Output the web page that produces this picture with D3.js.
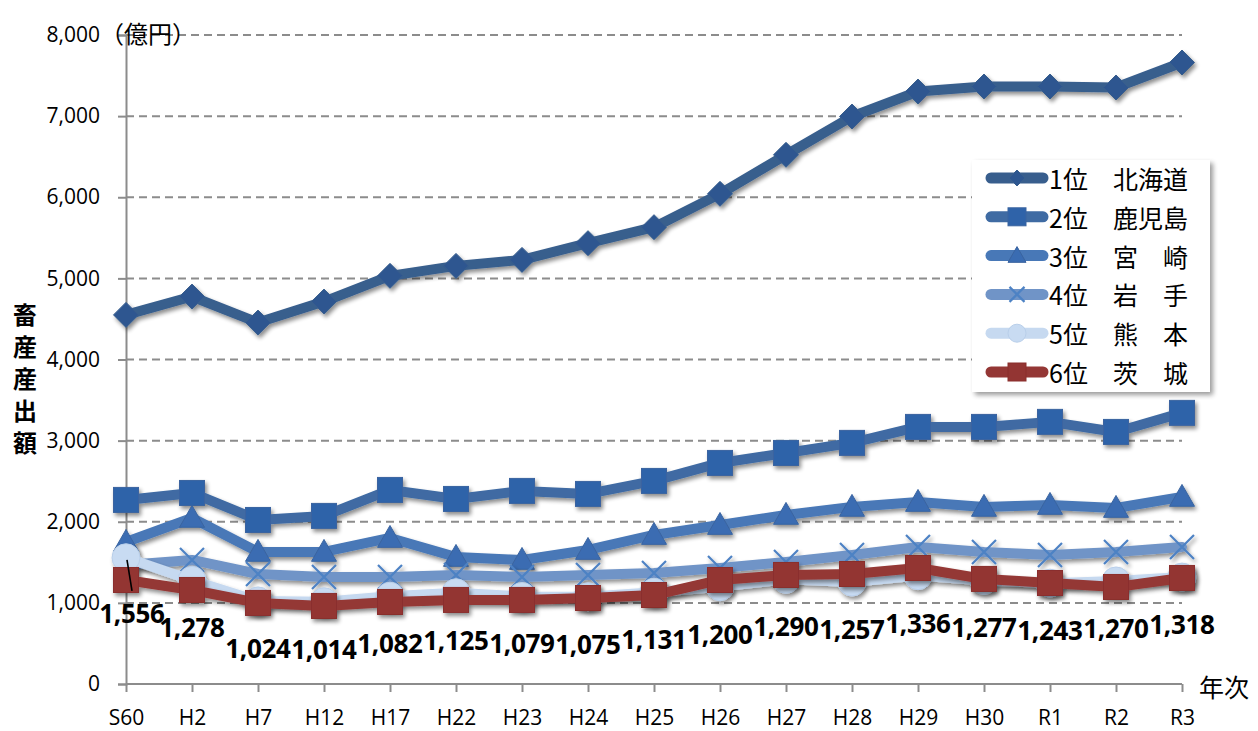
<!DOCTYPE html>
<html>
<head>
<meta charset="utf-8">
<script src="https://cdn.jsdelivr.net/npm/d3@7"></script>
<style>
  html, body { margin: 0; padding: 0; background: #fff; }
  svg { display: block; }
</style>
</head>
<body>
<svg id="chart" width="1258" height="731"></svg>
<script>
// 都道府県別 畜産産出額の推移（億円）
const years = ["S60","H2","H7","H12","H17","H22","H23","H24","H25","H26","H27","H28","H29","H30","R1","R2","R3"];
const hokkaido  = [4550,4776,4455,4714,5031,5154,5228,5434,5631,6042,6523,6995,7303,7365,7365,7353,7661];
const kagoshima = [2269,2355,2022,2072,2392,2281,2380,2343,2503,2725,2848,2972,3169,3169,3231,3107,3342];
const miyazaki  = [1751,2047,1628,1628,1800,1566,1529,1652,1837,1960,2084,2183,2244,2183,2207,2170,2306];
const iwate     = [1467,1529,1356,1319,1319,1344,1319,1344,1369,1430,1504,1590,1689,1628,1590,1628,1689];
const kumamoto  = [1556,1278,1024,1014,1082,1125,1079,1075,1131,1200,1290,1257,1336,1277,1243,1270,1318];
const ibaraki   = [1282,1159,999,962,1011,1036,1036,1060,1097,1282,1344,1356,1430,1295,1245,1196,1307];
const seriesNames = ["1位　北海道","2位　鹿児島","3位　宮　崎","4位　岩　手","5位　熊　本","6位　茨　城"];
const yTicks = [0,1000,2000,3000,4000,5000,6000,7000,8000];

const JP = "'Noto Sans CJK JP', 'Noto Sans', sans-serif";
const NUM = "'Open Sans', 'Liberation Sans', sans-serif";

const series = [
  { name: seriesNames[0], values: hokkaido,  line: "#385e8d", fill: "#2d5690", marker: "diamond" },
  { name: seriesNames[1], values: kagoshima, line: "#3f6ba3", fill: "#2f63a9", marker: "square" },
  { name: seriesNames[2], values: miyazaki,  line: "#4878b7", fill: "#3a6cb2", marker: "triangle" },
  { name: seriesNames[3], values: iwate,     line: "#7094c7", fill: "#4d82c4", marker: "cross" },
  { name: seriesNames[4], values: kumamoto,  line: "#c6d9f0", fill: "#c8dbf2", marker: "circle" },
  { name: seriesNames[5], values: ibaraki,   line: "#943735", fill: "#933533", marker: "rsquare" }
];

const svg = d3.select("#chart");
const x = d3.scalePoint().domain(years).range([126, 1182]);
const y = d3.scaleLinear().domain([0, 8000]).range([684, 35]);

// soft shadow under lines and markers
const defs = svg.append("defs");
const f = defs.append("filter").attr("id", "shadow")
  .attr("x", "-10%").attr("y", "-10%").attr("width", "130%").attr("height", "140%");
f.append("feGaussianBlur").attr("in", "SourceAlpha").attr("stdDeviation", 2.2).attr("result", "b");
f.append("feOffset").attr("in", "b").attr("dx", 2).attr("dy", 3).attr("result", "o");
f.append("feComponentTransfer").attr("in", "o").attr("result", "s")
  .append("feFuncA").attr("type", "linear").attr("slope", 0.45);
const fm = f.append("feMerge");
fm.append("feMergeNode").attr("in", "s");
fm.append("feMergeNode").attr("in", "SourceGraphic");

const lf = defs.append("filter").attr("id", "boxshadow")
  .attr("x", "-10%").attr("y", "-10%").attr("width", "130%").attr("height", "130%");
lf.append("feGaussianBlur").attr("in", "SourceAlpha").attr("stdDeviation", 2.5).attr("result", "b");
lf.append("feOffset").attr("in", "b").attr("dx", 3).attr("dy", 3).attr("result", "o");
lf.append("feComponentTransfer").attr("in", "o").attr("result", "s")
  .append("feFuncA").attr("type", "linear").attr("slope", 0.4);
const lm = lf.append("feMerge");
lm.append("feMergeNode").attr("in", "s");
lm.append("feMergeNode").attr("in", "SourceGraphic");

// gridlines
const grid = svg.append("g");
grid.selectAll("line.g").data(yTicks.filter(d => d > 0)).join("line")
  .attr("x1", x.range()[0]).attr("x2", x.range()[1])
  .attr("y1", d => y(d)).attr("y2", d => y(d))
  .attr("stroke", "#8c8c8c").attr("stroke-width", 2).attr("stroke-dasharray", "8,5");

// y axis
const yAxis = d3.axisLeft(y).tickValues(yTicks).tickSize(8).tickPadding(18)
  .tickFormat(d3.format(","));
const ya = svg.append("g").attr("transform", `translate(${x.range()[0]},0)`).call(yAxis);
ya.select(".domain").attr("stroke", "#8c8c8c").attr("stroke-width", 2);
ya.selectAll(".tick line").attr("stroke", "#8c8c8c").attr("stroke-width", 2);
ya.selectAll(".tick text").attr("font-family", NUM).attr("font-size", 21).attr("fill", "#000");

// x axis
const xAxis = d3.axisBottom(x).tickSize(8).tickPadding(18);
const xa = svg.append("g").attr("transform", `translate(0,${y(0)})`).call(xAxis);
xa.select(".domain").attr("stroke", "#8c8c8c").attr("stroke-width", 2)
  .attr("d", `M${x.range()[0]},0H${x.range()[1]}`);
xa.selectAll(".tick line").attr("stroke", "#8c8c8c").attr("stroke-width", 2);
xa.selectAll(".tick text").attr("font-family", NUM).attr("font-size", 21).attr("fill", "#000");

// marker shapes
function drawMarker(g, type, cx, cy, s, sr) {
  const h = s / 2;
  if (type === "diamond") {
    g.append("path").attr("d", `M${cx},${cy - h}L${cx + h},${cy}L${cx},${cy + h}L${cx - h},${cy}Z`)
      .attr("fill", sr.fill).attr("stroke", sr.line).attr("stroke-width", 1);
  } else if (type === "square" || type === "rsquare") {
    g.append("rect").attr("x", cx - h).attr("y", cy - h).attr("width", s).attr("height", s)
      .attr("fill", sr.fill).attr("stroke", type === "square" ? "#3a64a0" : "#8a2f2d").attr("stroke-width", 1);
  } else if (type === "triangle") {
    g.append("path").attr("d", `M${cx},${cy - h}L${cx + h},${cy + h * 0.75}L${cx - h},${cy + h * 0.75}Z`)
      .attr("fill", sr.fill).attr("stroke", "#3a64a0").attr("stroke-width", 1);
  } else if (type === "cross") {
    g.append("path").attr("d", `M${cx - h},${cy - h}L${cx + h},${cy + h}M${cx - h},${cy + h}L${cx + h},${cy - h}`)
      .attr("fill", "none").attr("stroke", sr.fill).attr("stroke-width", 2.2);
  } else if (type === "circle") {
    g.append("circle").attr("cx", cx).attr("cy", cy).attr("r", h)
      .attr("fill", sr.fill).attr("stroke", "#b9cfea").attr("stroke-width", 1);
  }
}
const markerSize = { diamond: 25, square: 25, triangle: 25, cross: 24, circle: 28, rsquare: 25 };

// series lines and markers
const line = d3.line().x((d, i) => x(years[i])).y(d => y(d));
series.forEach(sr => {
  const g = svg.append("g").attr("filter", "url(#shadow)");
  g.append("path").datum(sr.values).attr("d", line)
    .attr("fill", "none").attr("stroke", sr.line).attr("stroke-width", 10)
    .attr("stroke-linejoin", "round").attr("stroke-linecap", "round");
  sr.values.forEach((v, i) => drawMarker(g, sr.marker, x(years[i]), y(v), markerSize[sr.marker], sr));
});

// value labels for 熊本
const fmt = d3.format(",");
const labelG = svg.append("g");
kumamoto.forEach((v, i) => {
  let dx = 0, dy = 47;
  if (i === 0) {
    dx = 6; dy = 55;
    labelG.append("line")
      .attr("x1", x(years[i]) + 1).attr("y1", y(v) + 2)
      .attr("x2", x(years[i]) + 6).attr("y2", y(v) + 33)
      .attr("stroke", "#000").attr("stroke-width", 1.6);
  }
  labelG.append("text")
    .attr("x", x(years[i]) + dx).attr("y", y(v) + dy)
    .attr("text-anchor", "middle").attr("dominant-baseline", "central")
    .attr("font-family", NUM).attr("font-weight", "bold").attr("font-size", 26)
    .attr("letter-spacing", -0.3)
    .attr("fill", "#000").text(fmt(v));
});

// axis titles
svg.append("text").attr("x", 100).attr("y", 32).attr("dominant-baseline", "central")
  .attr("font-family", JP).attr("font-size", 24).attr("fill", "#000").text("（億円）");
svg.append("text").attr("x", 1199).attr("y", 686).attr("dominant-baseline", "central")
  .attr("font-family", JP).attr("font-size", 25).attr("fill", "#000").text("年次");
const vt = svg.append("text").attr("font-family", JP).attr("font-weight", "bold")
  .attr("font-size", 24).attr("fill", "#000").attr("text-anchor", "middle");
Array.from("畜産産出額").forEach((c, i) => {
  vt.append("tspan").attr("x", 25).attr("y", 313 + i * 32).attr("dominant-baseline", "central").text(c);
});

// legend
const lg = svg.append("g");
lg.append("rect").attr("x", 972).attr("y", 160).attr("width", 238).attr("height", 232)
  .attr("fill", "#fff").attr("filter", "url(#boxshadow)");
const legendMarker = { diamond: 16, square: 18, triangle: 18, cross: 15, circle: 18, rsquare: 18 };
series.forEach((sr, i) => {
  const cy = 178 + i * 38.8;
  lg.append("line").attr("x1", 991).attr("x2", 1043).attr("y1", cy).attr("y2", cy)
    .attr("stroke", sr.line).attr("stroke-width", 11).attr("stroke-linecap", "round");
  drawMarker(lg, sr.marker, 1017, cy, legendMarker[sr.marker], sr);
  lg.append("text").attr("x", 1049).attr("y", cy).attr("dominant-baseline", "central")
    .attr("font-family", JP).attr("font-size", 25).attr("fill", "#000").text(sr.name);
});
</script>
</body>
</html>
